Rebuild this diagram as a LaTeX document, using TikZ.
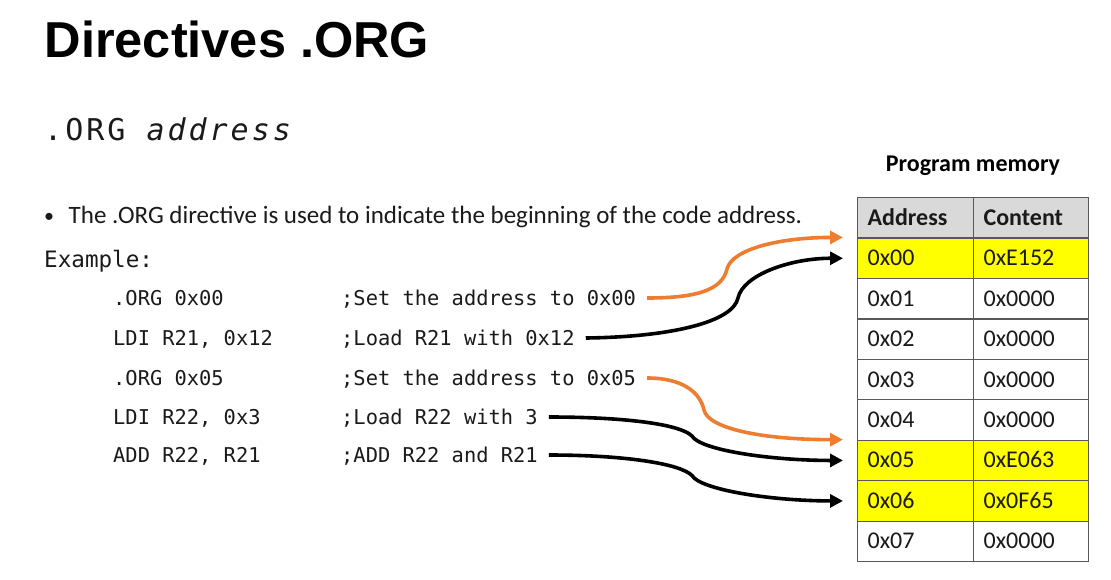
\documentclass[tikz,border=0pt]{standalone}
\usepackage{fontspec}
\setmainfont{Carlito}
\newfontfamily\titlefont{Liberation Sans}
\newfontfamily\codefont{DejaVu Sans Mono}
\newfontfamily\widecode{DejaVu Sans Mono}[LetterSpace=10]
\usetikzlibrary{arrows.meta}
\definecolor{accent}{HTML}{ED7D31}
\definecolor{hdrgray}{HTML}{D9D9D9}
\definecolor{gridline}{HTML}{595959}
\definecolor{hilite}{HTML}{FFFF00}
\definecolor{ink}{HTML}{1A1A1A}

\begin{document}
\begin{tikzpicture}[x=1pt,y=-1pt,
  txt/.style={inner sep=0pt, anchor=base west, text=ink},
  codeline/.style={txt, font=\codefont\fontsize{20.4}{24}\selectfont,
                   text height=14pt, text depth=0pt},
  cell/.style={draw=gridline, line width=1.2pt, anchor=north west,
               minimum height=40.44pt, text height=15pt, text depth=0pt,
               inner xsep=10pt, inner ysep=0pt, align=left, text=ink,
               font=\fontsize{24}{28}\selectfont},
  colA/.style={cell, text width=96pt},
  colB/.style={cell, text width=95pt},
  link/.style={line width=3.6pt, shorten >=14pt,
               -{Triangle[length=13pt,width=13pt]}},
  orangelink/.style={link, draw=accent},
  blacklink/.style={link, draw=black}]

\useasboundingbox[fill=white] (0,0) rectangle (1111,579);

% headings
\node[txt, font=\titlefont\bfseries\fontsize{50.5}{60}\selectfont, text=black]
  (title) at (44.5,57) {Directives .ORG};
\node[txt, font=\widecode\fontsize{30}{35}\selectfont]
  (syntax) at (44,140) {.ORG \textit{address}};

% description
\node[txt, font=\fontsize{20}{27}\selectfont] (dot) at (44,222) {•};
\node[txt, font=\fontsize{25}{30}\selectfont] (desc) at (68.5,223)
  {The .ORG directive is used to indicate the beginning of the code address.};
\node[txt, font=\codefont\fontsize{22.6}{26}\selectfont] (example) at (44,267) {Example:};

% assembly listing
\node[codeline] (i1) at (113,305) {.ORG 0x00};
\node[codeline] (i2) at (113,345) {LDI R21, 0x12};
\node[codeline] (i3) at (113,385) {.ORG 0x05};
\node[codeline] (i4) at (113,424) {LDI R22, 0x3};
\node[codeline] (i5) at (113,462) {ADD R22, R21};

\node[codeline] (c1) at (341,305) {;Set the address to 0x00};
\node[codeline] (c2) at (341,345) {;Load R21 with 0x12};
\node[codeline] (c3) at (341,385) {;Set the address to 0x05};
\node[codeline] (c4) at (341,424) {;Load R22 with 3};
\node[codeline] (c5) at (341,462) {;ADD R22 and R21};

% program memory table
\node[txt, anchor=base, font=\bfseries\fontsize{24}{28}\selectfont, text=black]
  (memtitle) at (973,171) {Program memory};
\node[colA, fill=hdrgray, font=\bfseries\fontsize{24}{28}\selectfont] (hA) at (857,197) {Address};
\node[colB, fill=hdrgray, font=\bfseries\fontsize{24}{28}\selectfont] (hB) at (973,197) {Content};
\foreach \i/\val/\shade in {0/0xE152/hilite, 1/0x0000/white, 2/0x0000/white,
                            3/0x0000/white, 4/0x0000/white, 5/0xE063/hilite,
                            6/0x0F65/hilite, 7/0x0000/white} {
  \node[colA, fill=\shade] (addr\i) at (857,{237.44+\i*40.44}) {0x0\i};
  \node[colB, fill=\shade] (cont\i) at (973,{237.44+\i*40.44}) {\val};
}

% bend points of the connectors
\coordinate (k1) at (727,269);
\coordinate (k2) at (738,298);
\coordinate (k3) at (704,410);
\coordinate (k4) at (692,436);
\coordinate (k5) at (692,475.5);

% connectors from the listing to the memory cells
\draw[orangelink] ([xshift=11pt]c1.east) .. controls +(50,0) and +(-5,21) .. (k1)
  .. controls +(5,-20) and +(-77,0) .. (addr0.north west);
\draw[blacklink] ([xshift=11pt]c2.east) .. controls +(85,-1) and +(-5,24) .. (k2)
  .. controls +(5,-23) and +(-67,0) .. (addr0.west);
\draw[orangelink] ([xshift=11pt]c3.east) .. controls +(35,0) and +(-4,-18) .. (k3)
  .. controls +(4,18) and +(-97,0) .. (addr5.north west);
\draw[blacklink] ([xshift=11pt]c4.east) .. controls +(75,0) and +(-12,-12) .. (k4)
  .. controls +(8,14) and +(-87,0) .. (addr5.west);
\draw[blacklink] ([xshift=11pt]c5.east) .. controls +(75,0) and +(-12,-12) .. (k5)
  .. controls +(8,14) and +(-87,0) .. (addr6.west);
\end{tikzpicture}
\end{document}
